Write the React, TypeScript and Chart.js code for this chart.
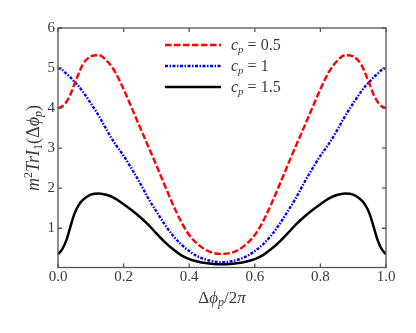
import React, { useEffect, useRef } from 'react';
import { Chart, registerables } from 'chart.js';

Chart.register(...registerables);

const X_VALUES = [
  0, 0.0125, 0.025, 0.0375, 0.05, 0.0625, 0.075, 0.1, 0.125, 0.15, 0.175, 0.2, 0.225, 0.25, 0.275, 0.3, 0.325, 0.35,
  0.375, 0.4, 0.425, 0.45, 0.475, 0.5, 0.525, 0.55, 0.575, 0.6, 0.625, 0.65, 0.675, 0.7, 0.725, 0.75, 0.775, 0.8,
  0.825, 0.85, 0.875, 0.9, 0.925, 0.9375, 0.95, 0.9625, 0.975, 0.9875, 1,
];

const CP_05 = [
  4.0, 4.04, 4.15, 4.33, 4.6, 4.85, 5.08, 5.29, 5.32, 5.17, 4.89, 4.47, 4.0, 3.52, 3.05, 2.57, 2.08, 1.6, 1.17, 0.83,
  0.61, 0.46, 0.38, 0.36, 0.38, 0.46, 0.61, 0.83, 1.17, 1.6, 2.08, 2.57, 3.05, 3.52, 4.0, 4.47, 4.89, 5.17, 5.32, 5.29,
  5.08, 4.85, 4.6, 4.33, 4.15, 4.04, 4.0,
];

const CP_1 = [
  5.0, 4.96, 4.86, 4.77, 4.66, 4.55, 4.42, 4.12, 3.8, 3.43, 3.1, 2.81, 2.48, 2.13, 1.75, 1.42, 1.1, 0.82, 0.6, 0.43,
  0.3, 0.22, 0.17, 0.15, 0.17, 0.22, 0.3, 0.43, 0.6, 0.82, 1.1, 1.42, 1.75, 2.13, 2.48, 2.81, 3.1, 3.43, 3.8, 4.12,
  4.42, 4.55, 4.66, 4.77, 4.86, 4.96, 5.0,
];

const CP_15 = [
  0.35, 0.47, 0.69, 1.03, 1.36, 1.57, 1.7, 1.84, 1.87, 1.83, 1.74, 1.6, 1.45, 1.28, 1.09, 0.87, 0.66, 0.48, 0.33, 0.23,
  0.17, 0.13, 0.11, 0.1, 0.11, 0.13, 0.17, 0.23, 0.33, 0.48, 0.66, 0.87, 1.09, 1.28, 1.45, 1.6, 1.74, 1.83, 1.87, 1.84,
  1.7, 1.57, 1.36, 1.03, 0.69, 0.47, 0.35,
];

const SERIES_LABELS = ['0.5', '1', '1.5'];
const X_TICKS = [0, 0.2, 0.4, 0.6, 0.8, 1.0];
const Y_TICKS = [1, 2, 3, 4, 5, 6];

const SERIF = '"Liberation Serif", "Times New Roman", Times, "DejaVu Serif", serif';
const TEXT_COLOR = '#3a3a3a';
const FRAME_COLOR = '#555555';

type Part = { t: string; italic?: boolean; size: number; dy?: number };

function measureParts(ctx: CanvasRenderingContext2D, parts: Part[]) {
  let w = 0;
  for (const p of parts) {
    ctx.font = `${p.italic ? 'italic ' : ''}${p.size}px ${SERIF}`;
    w += ctx.measureText(p.t).width;
  }
  return w;
}

function drawParts(ctx: CanvasRenderingContext2D, parts: Part[], x: number, y: number) {
  let cx = x;
  for (const p of parts) {
    ctx.font = `${p.italic ? 'italic ' : ''}${p.size}px ${SERIF}`;
    ctx.fillText(p.t, cx, y + (p.dy || 0));
    cx += ctx.measureText(p.t).width;
  }
}

export default function App() {
  const ref = useRef<HTMLCanvasElement>(null);

  useEffect(() => {
    const canvas = ref.current;
    if (!canvas) return;
    const mk = (vals: number[]) => X_VALUES.map((x, i) => ({ x, y: vals[i] }));

    const decor = {
      id: 'decor',
      afterDatasetsDraw(chart: any) {
        const ctx: CanvasRenderingContext2D = chart.ctx;
        const { left, right, top, bottom } = chart.chartArea;
        const xs = chart.scales.x;
        const ys = chart.scales.y;
        ctx.save();
        ctx.strokeStyle = FRAME_COLOR;
        ctx.lineWidth = 1.3;
        ctx.strokeRect(left, top, right - left, bottom - top);
        const tl = 4;
        ctx.beginPath();
        for (const v of X_TICKS) {
          const px = xs.getPixelForValue(v);
          ctx.moveTo(px, bottom);
          ctx.lineTo(px, bottom - tl);
          ctx.moveTo(px, top);
          ctx.lineTo(px, top + tl);
        }
        for (const v of Y_TICKS) {
          const py = ys.getPixelForValue(v);
          ctx.moveTo(left, py);
          ctx.lineTo(left + tl, py);
          ctx.moveTo(right, py);
          ctx.lineTo(right - tl, py);
        }
        ctx.stroke();

        const rowsY = [45, 66, 87];
        chart.data.datasets.forEach((ds: any, i: number) => {
          const y = rowsY[i];
          ctx.strokeStyle = ds.borderColor;
          ctx.lineWidth = ds.borderWidth;
          ctx.setLineDash(ds.borderDash || []);
          ctx.beginPath();
          ctx.moveTo(165, y);
          ctx.lineTo(221, y);
          ctx.stroke();
          ctx.setLineDash([]);
          ctx.fillStyle = TEXT_COLOR;
          ctx.textBaseline = 'alphabetic';
          ctx.textAlign = 'left';
          drawParts(
            ctx,
            [
              { t: 'c', italic: true, size: 16 },
              { t: 'p', italic: true, size: 11, dy: 3 },
              { t: ' = ' + ds.label, size: 16 },
            ],
            231,
            y + 5
          );
        });

        ctx.fillStyle = TEXT_COLOR;
        ctx.textBaseline = 'alphabetic';
        ctx.textAlign = 'left';
        const xt: Part[] = [
          { t: 'Δ', size: 17 },
          { t: 'ϕ', italic: true, size: 17 },
          { t: 'p', italic: true, size: 12, dy: 3 },
          { t: '/2', size: 17 },
          { t: 'π', italic: true, size: 17 },
        ];
        const xw = measureParts(ctx, xt);
        drawParts(ctx, xt, (left + right) / 2 - xw / 2, 303);

        const yt: Part[] = [
          { t: 'm', italic: true, size: 18 },
          { t: '2', size: 12, dy: -7 },
          { t: 'TrI', italic: true, size: 18 },
          { t: '1', size: 12, dy: 3 },
          { t: '(Δ', size: 18 },
          { t: 'ϕ', italic: true, size: 18 },
          { t: 'p', italic: true, size: 12, dy: 3 },
          { t: ')', size: 18 },
        ];
        const yw = measureParts(ctx, yt);
        ctx.translate(39, 148);
        ctx.rotate(-Math.PI / 2);
        drawParts(ctx, yt, -yw / 2, 0);
        ctx.restore();
      },
    };

    const tickFont = { family: SERIF, size: 15 };

    const chart = new Chart(canvas, {
      type: 'line',
      data: {
        datasets: [
          {
            label: SERIES_LABELS[0],
            data: mk(CP_05),
            borderColor: '#ff0000',
            borderDash: [6.5, 2.5],
            borderWidth: 2.4,
            pointRadius: 0,
            cubicInterpolationMode: 'monotone',
            fill: false,
          },
          {
            label: SERIES_LABELS[1],
            data: mk(CP_1),
            borderColor: '#0000ff',
            borderDash: [3, 1.5, 1.5, 1.5],
            borderWidth: 2.4,
            pointRadius: 0,
            cubicInterpolationMode: 'monotone',
            fill: false,
          },
          {
            label: SERIES_LABELS[2],
            data: mk(CP_15),
            borderColor: '#000000',
            borderWidth: 2.5,
            pointRadius: 0,
            cubicInterpolationMode: 'monotone',
            fill: false,
          },
        ],
      } as any,
      options: {
        animation: false,
        responsive: false,
        maintainAspectRatio: false,
        layout: { padding: { left: 0, right: 30, top: 28, bottom: 0 } },
        plugins: { legend: { display: false }, tooltip: { enabled: false } },
        scales: {
          x: {
            type: 'linear',
            min: 0,
            max: 1,
            grid: { display: false, drawTicks: false },
            border: { display: false },
            afterBuildTicks: (s: any) => {
              s.ticks = X_TICKS.map((v) => ({ value: v }));
            },
            afterFit: (s: any) => {
              s.height = 65.5;
            },
            ticks: {
              font: tickFont,
              color: TEXT_COLOR,
              padding: 1,
              maxRotation: 0,
              autoSkip: false,
              callback: (v: any) => Number(v).toFixed(1),
            },
          },
          y: {
            type: 'linear',
            min: 0.02,
            max: 6,
            grid: { display: false, drawTicks: false },
            border: { display: false },
            afterBuildTicks: (s: any) => {
              s.ticks = Y_TICKS.map((v) => ({ value: v }));
            },
            afterFit: (s: any) => {
              s.width = 58;
            },
            ticks: {
              font: tickFont,
              color: TEXT_COLOR,
              padding: 3,
              autoSkip: false,
              callback: (v: any) => String(v),
            },
          },
        },
      } as any,
      plugins: [decor],
    });
    return () => chart.destroy();
  }, []);

  return (
    <div style={{ position: 'fixed', left: 0, top: 0, width: 416, height: 333, background: '#fff' }}>
      <canvas ref={ref} width={416} height={333} style={{ width: 416, height: 333, display: 'block' }} />
    </div>
  );
}
